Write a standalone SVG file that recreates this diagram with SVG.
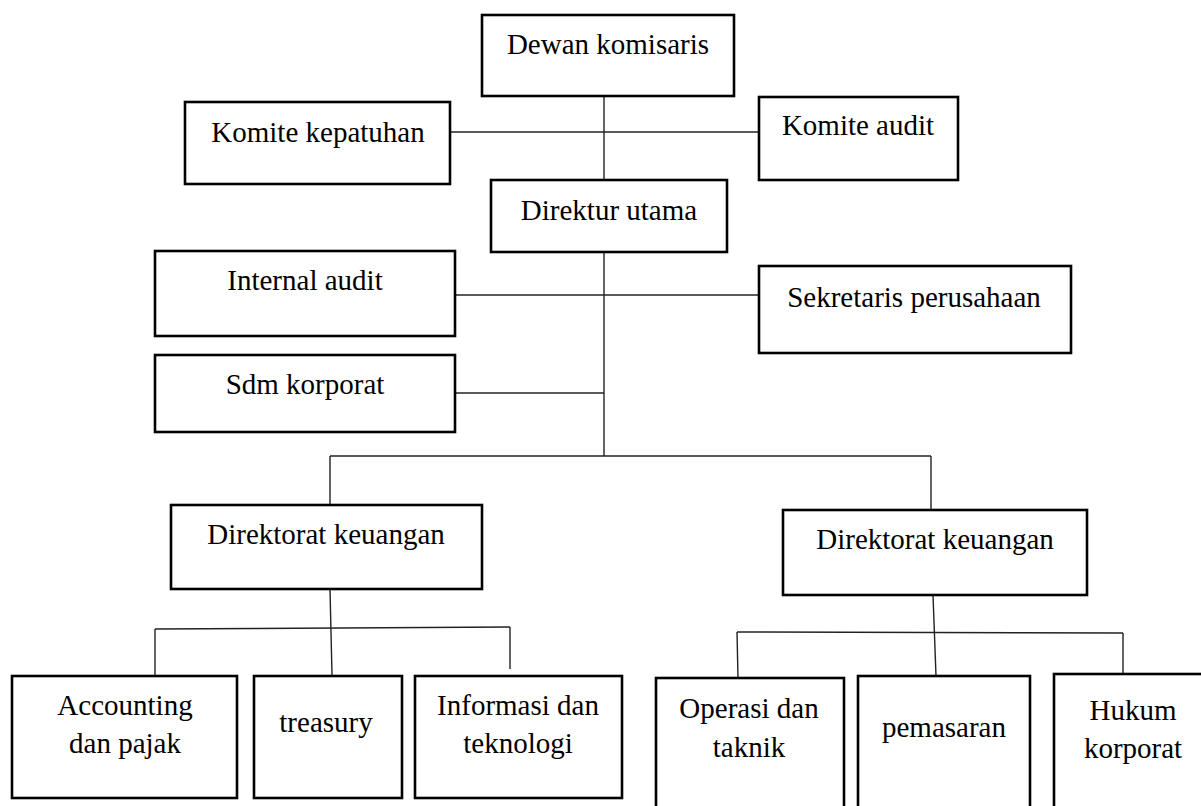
<svg xmlns="http://www.w3.org/2000/svg" width="1201" height="806" viewBox="0 0 1201 806">
<style>
.box{fill:#fff;stroke:#000;stroke-width:2.6}
.lbl{font-family:"Liberation Serif","Times New Roman",serif;font-size:29px;fill:#000;text-anchor:middle}
.con{fill:none;stroke:#222;stroke-width:1.4}
</style>
<rect x="0" y="0" width="1201" height="806" fill="#fff"/>
<g id="connectors">
<line class="con" x1="604" y1="96" x2="604" y2="180"/>
<line class="con" x1="450" y1="132" x2="759" y2="132"/>
<line class="con" x1="604" y1="252" x2="604" y2="456"/>
<line class="con" x1="455" y1="295" x2="759" y2="295"/>
<line class="con" x1="455" y1="393" x2="604" y2="393"/>
<line class="con" x1="330" y1="456" x2="931" y2="456"/>
<line class="con" x1="330" y1="456" x2="330" y2="505"/>
<line class="con" x1="931" y1="456" x2="931" y2="510"/>
<line class="con" x1="330" y1="589" x2="332" y2="675"/>
<line class="con" x1="155" y1="629" x2="510" y2="627"/>
<line class="con" x1="155" y1="629" x2="155" y2="675"/>
<line class="con" x1="510" y1="627" x2="510" y2="669"/>
<line class="con" x1="933" y1="595" x2="936" y2="676"/>
<line class="con" x1="737" y1="632" x2="1123" y2="633"/>
<line class="con" x1="737" y1="632" x2="738" y2="678"/>
<line class="con" x1="1123" y1="633" x2="1123" y2="677"/>
</g>
<g id="dewan-komisaris"><rect class="box" x="482" y="15" width="252" height="81"/><text class="lbl" x="608" y="54">Dewan komisaris</text></g>
<g id="komite-kepatuhan"><rect class="box" x="185" y="102" width="265" height="82"/><text class="lbl" x="318" y="142">Komite kepatuhan</text></g>
<g id="komite-audit"><rect class="box" x="759" y="97" width="199" height="83"/><text class="lbl" x="858" y="135">Komite audit</text></g>
<g id="direktur-utama"><rect class="box" x="491" y="180" width="236" height="72"/><text class="lbl" x="609" y="220">Direktur utama</text></g>
<g id="internal-audit"><rect class="box" x="155" y="251" width="300" height="85"/><text class="lbl" x="305" y="290">Internal audit</text></g>
<g id="sekretaris-perusahaan"><rect class="box" x="759" y="266" width="312" height="87"/><text class="lbl" x="914" y="307">Sekretaris perusahaan</text></g>
<g id="sdm-korporat"><rect class="box" x="155" y="355" width="300" height="77"/><text class="lbl" x="305" y="394">Sdm korporat</text></g>
<g id="direktorat-keuangan-1"><rect class="box" x="171" y="505" width="311" height="84"/><text class="lbl" x="326" y="544">Direktorat keuangan</text></g>
<g id="direktorat-keuangan-2"><rect class="box" x="783" y="510" width="304" height="85"/><text class="lbl" x="935" y="549">Direktorat keuangan</text></g>
<g id="accounting"><rect class="box" x="12" y="676" width="225" height="122"/><text class="lbl" x="125" y="715">Accounting</text><text class="lbl" x="125" y="753">dan pajak</text></g>
<g id="treasury"><rect class="box" x="254" y="676" width="148" height="122"/><text class="lbl" x="326" y="732">treasury</text></g>
<g id="informasi"><rect class="box" x="415" y="676" width="207" height="122"/><text class="lbl" x="518" y="715">Informasi dan</text><text class="lbl" x="518" y="753">teknologi</text></g>
<g id="operasi"><rect class="box" x="656" y="678" width="188" height="140"/><text class="lbl" x="749" y="718">Operasi dan</text><text class="lbl" x="749" y="757">taknik</text></g>
<g id="pemasaran"><rect class="box" x="858" y="676" width="172" height="142"/><text class="lbl" x="944" y="737">pemasaran</text></g>
<g id="hukum-korporat"><rect class="box" x="1054" y="674" width="160" height="144"/><text class="lbl" x="1133" y="720">Hukum</text><text class="lbl" x="1133" y="758">korporat</text></g>
</svg>
